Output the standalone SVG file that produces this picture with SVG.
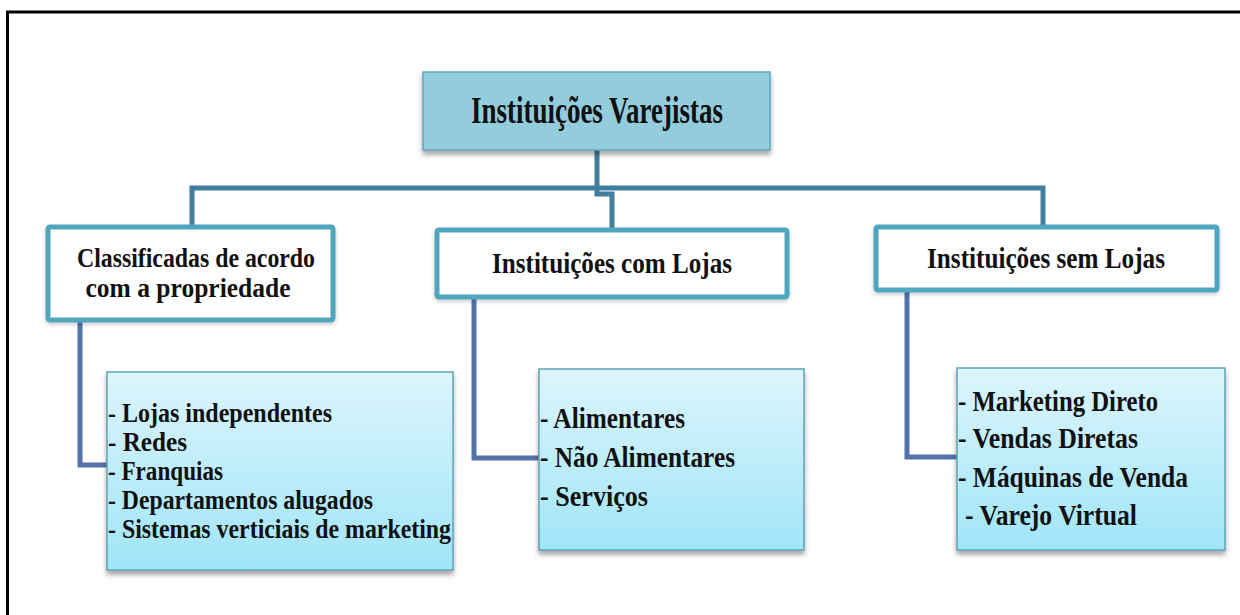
<svg xmlns="http://www.w3.org/2000/svg" width="1240" height="615" viewBox="0 0 1240 615">
<style>
  text { font-family: 'Liberation Serif', 'Times New Roman', serif; font-weight: 700; fill: #111; }
  .hd { text-anchor: middle; }
  .child { fill: #ffffff; stroke: #4FA6BE; stroke-width: 5; }
  .leaf { fill: url(#leafGrad); stroke: #5FA3B8; stroke-width: 1.5; }
  .up { fill: none; stroke: #3F7F9D; stroke-width: 5; }
  .lo { fill: none; stroke: #5272AA; stroke-width: 5; }
</style>
<defs>
  <linearGradient id="leafGrad" x1="0" y1="0" x2="0" y2="1">
    <stop offset="0" stop-color="#DDF5FC"/>
    <stop offset="1" stop-color="#A0E5F8"/>
  </linearGradient>
  <filter id="sh" x="-10%" y="-10%" width="120%" height="130%">
    <feDropShadow dx="0" dy="4" stdDeviation="2.5" flood-color="#000" flood-opacity="0.35"/>
  </filter>
  <filter id="sh2" x="-10%" y="-10%" width="120%" height="130%">
    <feDropShadow dx="0" dy="2" stdDeviation="2" flood-color="#000" flood-opacity="0.2"/>
  </filter>
</defs>
<rect x="0" y="0" width="1240" height="615" fill="#ffffff"/>
<rect id="frame" x="7.5" y="12" width="1260" height="640" fill="none" stroke="#000" stroke-width="3"/>

<g id="connectors">
  <path class="up" d="M597,150 V194 H612 V230"/>
  <path class="up" d="M192,227 V188 H1043 V227"/>
  <path class="lo" d="M80,320 V465 H110"/>
  <path class="lo" d="M474,297 V458 H541"/>
  <path class="lo" d="M907,290 V457 H959"/>
</g>

<g id="root">
  <rect x="423" y="72" width="347" height="78" fill="#93CDDD" stroke="#5FA8BC" stroke-width="1.5" filter="url(#sh)"/>
  <text x="597" y="123" font-size="38" text-anchor="middle" textLength="252" lengthAdjust="spacingAndGlyphs">Instituições Varejistas</text>
</g>

<g id="box-propriedade">
  <rect class="child" x="48" y="227" width="285" height="93" rx="2" filter="url(#sh2)"/>
  <text class="hd" x="196" y="267" font-size="27" textLength="238" lengthAdjust="spacingAndGlyphs">Classificadas de acordo</text>
  <text class="hd" x="188" y="297" font-size="27" textLength="205" lengthAdjust="spacingAndGlyphs">com a propriedade</text>
</g>

<g id="box-com-lojas">
  <rect class="child" x="437" y="230" width="350" height="67" rx="2" filter="url(#sh2)"/>
  <text class="hd" x="612" y="273" font-size="30" textLength="240" lengthAdjust="spacingAndGlyphs">Instituições com Lojas</text>
</g>

<g id="box-sem-lojas">
  <rect class="child" x="876" y="227" width="341" height="63" rx="2" filter="url(#sh2)"/>
  <text class="hd" x="1046" y="268" font-size="30" textLength="238" lengthAdjust="spacingAndGlyphs">Instituições sem Lojas</text>
</g>

<g id="leaf-propriedade">
  <rect class="leaf" x="107" y="372" width="346" height="198" filter="url(#sh)"/>
  <text x="108" y="422" font-size="28" textLength="224" lengthAdjust="spacingAndGlyphs">- Lojas independentes</text>
  <text x="108" y="451" font-size="28" textLength="79" lengthAdjust="spacingAndGlyphs">- Redes</text>
  <text x="108" y="480" font-size="28" textLength="115" lengthAdjust="spacingAndGlyphs">- Franquias</text>
  <text x="108" y="509" font-size="28" textLength="265" lengthAdjust="spacingAndGlyphs">- Departamentos alugados</text>
  <text x="108" y="538" font-size="28" textLength="343" lengthAdjust="spacingAndGlyphs">- Sistemas verticiais de marketing</text>
</g>

<g id="leaf-com-lojas">
  <rect class="leaf" x="539" y="369" width="265" height="181" filter="url(#sh)"/>
  <text x="540" y="428" font-size="29" textLength="145" lengthAdjust="spacingAndGlyphs">- Alimentares</text>
  <text x="540" y="467" font-size="29" textLength="195" lengthAdjust="spacingAndGlyphs">- Não Alimentares</text>
  <text x="540" y="506" font-size="29" textLength="108" lengthAdjust="spacingAndGlyphs">- Serviços</text>
</g>

<g id="leaf-sem-lojas">
  <rect class="leaf" x="957" y="368" width="268" height="182" filter="url(#sh)"/>
  <text x="958" y="411" font-size="29" textLength="200" lengthAdjust="spacingAndGlyphs">- Marketing Direto</text>
  <text x="958" y="448" font-size="29" textLength="180" lengthAdjust="spacingAndGlyphs">- Vendas Diretas</text>
  <text x="958" y="487" font-size="29" textLength="230" lengthAdjust="spacingAndGlyphs">- Máquinas de Venda</text>
  <text x="965" y="525" font-size="29" textLength="172" lengthAdjust="spacingAndGlyphs">- Varejo Virtual</text>
</g>
</svg>
